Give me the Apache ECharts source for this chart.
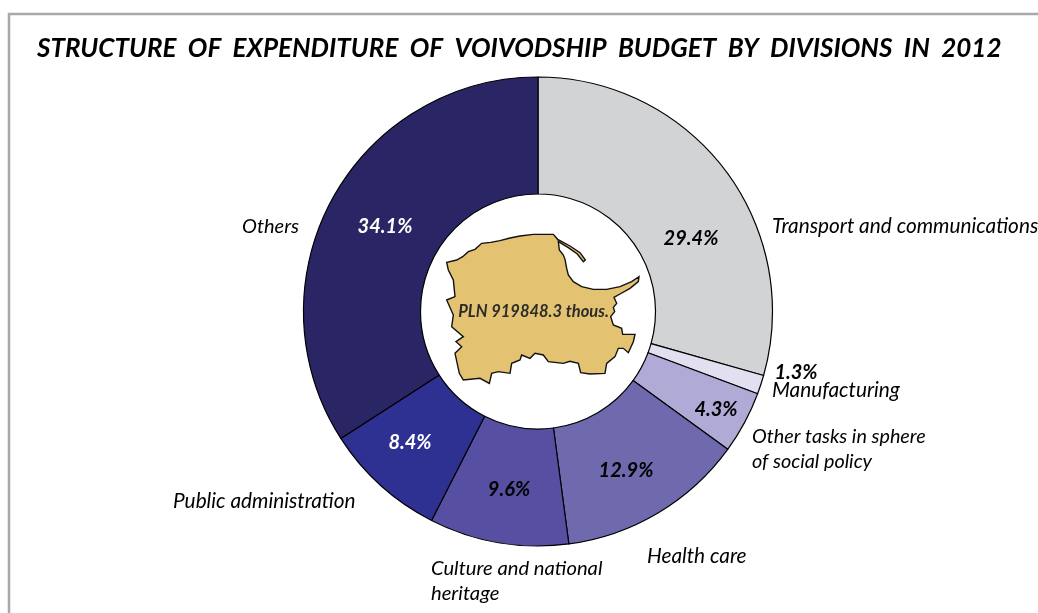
<!DOCTYPE html>
<html>
<head>
<meta charset="utf-8">
<style>html,body{margin:0;padding:0;background:#fff}#c{width:1038px;height:613px}</style>
<script src="https://cdn.jsdelivr.net/npm/echarts@6/dist/echarts.min.js"></script>
</head>
<body>
<div id="c"></div>
<script>
var categories = ['Transport and communications','Manufacturing','Other tasks in sphere\nof social policy','Health care','Culture and national\nheritage','Public administration','Others'];
var shares = [29.4,1.3,4.3,12.9,9.6,8.4,34.1];
var sliceColors = ['#d1d3d4','#e1dff0','#b0aad6','#6f69ae','#5750a2','#2e3191','#2a2665'];
var shareColors = ['#000','#000','#000','#000','#000','#fff','#fff'];
var titleText = 'STRUCTURE  OF  EXPENDITURE  OF  VOIVODSHIP  BUDGET  BY  DIVISIONS  IN  2012';
var centreText = 'PLN 919848.3 thous.';
// label anchor points on the page: [x, y]
var shareLabelAt = [[691,239],[796,373],[716,410],[626,471],[509,490],[410,443],[385,227]];
var nameLabelAt = [[772,226],[772,390],[752,449],[647,556],[431,581],[173,501],[242,227]];
var nameFontSizes = [20.8,20.8,19.8,20.8,20.2,20.8,20];
var regionOutline = [[80,187],[110,180],[128,170],[145,155],[165,148],[185,130],[212,127],[240,122],[270,114],[300,108],[340,103],[400,103],[413,118],[450,138],[480,158],[496,180],[490,185],[472,162],[445,143],[415,125],[418,150],[430,165],[435,178],[440,205],[445,225],[460,245],[485,260],[520,268],[560,268],[600,260],[635,245],[657,230],[655,245],[630,265],[600,282],[582,292],[590,310],[580,322],[584,335],[572,350],[580,375],[605,385],[608,403],[645,403],[640,425],[625,458],[610,445],[595,445],[585,470],[560,490],[555,520],[510,522],[482,518],[475,490],[450,484],[430,490],[385,485],[370,465],[345,460],[330,475],[305,465],[300,480],[275,490],[270,520],[235,515],[215,520],[208,550],[180,535],[130,540],[118,520],[105,460],[125,440],[108,425],[130,410],[95,380],[100,345],[80,300],[105,290],[100,240],[85,210]];

var chart = echarts.init(document.getElementById('c'));
var fontFamily = 'Lato, Carlito, "Open Sans", sans-serif';
var centre = ['538px','311.5px'];
var radius = ['117.5px','234.5px'];
var dataItems = categories.map(function(n,i){
  return {name:n,value:shares[i],itemStyle:{color:sliceColors[i]},
    label:{color:shareColors[i]}};
});
function pieBase(){return {type:'pie',center:centre,radius:radius,startAngle:90,clockwise:true,silent:true,animation:false,avoidLabelOverlap:false,labelLine:{show:false}};}
chart.setOption({
  animation:false,
  backgroundColor:'#fff',
  title:{text:titleText,left:32,top:31,textStyle:{fontFamily:fontFamily,fontSize:26,fontWeight:'bold',fontStyle:'italic',color:'#000'}},
  series:[
    Object.assign(pieBase(),{
      data:dataItems,
      itemStyle:{borderColor:'#000',borderWidth:1.2},
      label:{show:true,position:'inside',formatter:function(p){return p.value.toFixed(1)+'%';},fontFamily:fontFamily,fontSize:20,fontWeight:'bold',fontStyle:'italic'},
      labelLayout:function(p){var a=shareLabelAt[p.dataIndex];return {x:a[0],y:a[1],align:'center',verticalAlign:'middle',hideOverlap:false};}
    }),
    Object.assign(pieBase(),{
      data:categories.map(function(n,i){return {name:n,value:shares[i],label:{fontSize:nameFontSizes[i]}};}),
      itemStyle:{color:'rgba(0,0,0,0)',borderWidth:0},
      label:{show:true,position:'outside',formatter:'{b}',color:'#000',fontFamily:fontFamily,fontStyle:'italic',lineHeight:25,alignTo:'none'},
      labelLayout:function(p){var a=nameLabelAt[p.dataIndex];return {x:a[0],y:a[1],align:'left',verticalAlign:'middle',hideOverlap:false};}
    })
  ],
  graphic:[
    {type:'polyline',z:20,shape:{points:[[9,613],[9,14],[1038,14]]},style:{fill:'none',stroke:'#a7a9ac',lineWidth:2.5}},
    {type:'polygon',z:20,shape:{points:regionOutline.map(function(p){return [420+p[0]/3,200+p[1]/3];})},style:{fill:'#e3c372',stroke:'#111',lineWidth:1.4}},
    {type:'text',z:21,x:533.5,y:312,style:{text:centreText,align:'center',verticalAlign:'middle',fontFamily:fontFamily,fontSize:16.5,fontWeight:'bold',fontStyle:'italic',fill:'#2b2b2b'}}
  ]
});
</script>
</body>
</html>
